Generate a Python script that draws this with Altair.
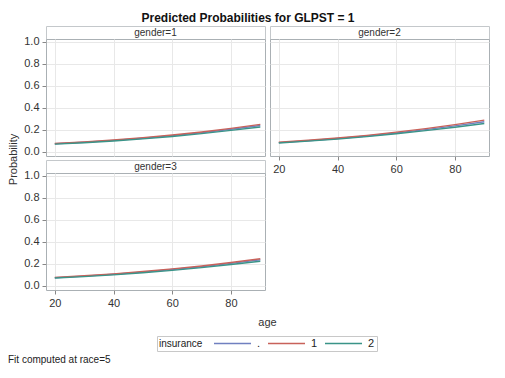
import altair as alt
import pandas as pd

ages = [20, 30, 40, 50, 60, 70, 80, 90]
insurance_levels = [".", "1", "2"]
genders = ["1", "2", "3"]

# predicted probabilities
g1 = {
    ".": [0.071, 0.085, 0.102, 0.122, 0.145, 0.172, 0.203, 0.237],
    "1": [0.074, 0.088, 0.106, 0.127, 0.151, 0.179, 0.211, 0.248],
    "2": [0.068, 0.081, 0.097, 0.116, 0.138, 0.164, 0.193, 0.224],
}
g2 = {
    ".": [0.082, 0.099, 0.119, 0.142, 0.169, 0.200, 0.234, 0.272],
    "1": [0.085, 0.103, 0.124, 0.148, 0.177, 0.209, 0.246, 0.287],
    "2": [0.079, 0.095, 0.114, 0.136, 0.162, 0.191, 0.222, 0.256],
}
g3 = {
    ".": [0.072, 0.086, 0.103, 0.123, 0.146, 0.172, 0.202, 0.235],
    "1": [0.075, 0.090, 0.107, 0.128, 0.152, 0.179, 0.210, 0.245],
    "2": [0.069, 0.082, 0.098, 0.117, 0.139, 0.164, 0.192, 0.222],
}
x_ticks = [20, 40, 60, 80]
y_ticks = [0.0, 0.2, 0.4, 0.6, 0.8, 1.0]
line_colors = ["#7080c0", "#c8625a", "#3a9488"]

rows = []
for g, d in zip(genders, [g1, g2, g3]):
    for ins in insurance_levels:
        for a, p in zip(ages, d[ins]):
            rows.append({"gender": g, "insurance": ins, "age": a, "prob": p})
df = pd.DataFrame(rows)

FONT = "Liberation Sans"
PW, PH, HH = 219, 117, 13
FRAME = "#aab0b4"

x_scale = alt.Scale(domain=[17, 91.6], nice=False, zero=False)
y_scale = alt.Scale(domain=[-0.04, 1.025], nice=False, zero=False)
color = alt.Color(
    "insurance:N",
    scale=alt.Scale(domain=insurance_levels, range=line_colors),
    legend=alt.Legend(
        title="insurance", orient="none", legendX=111, legendY=310,
        direction="horizontal", titleOrient="left", symbolType="stroke",
        symbolSize=1369, symbolStrokeWidth=1.5, strokeColor="#c8c8c8",
        clipHeight=11, padding=2, titleFontWeight="normal", titleFontSize=10,
        labelFontSize=11, titleFont=FONT, labelFont=FONT, titleColor="#222",
        labelColor="#222", columnPadding=6, labelOffset=5, titlePadding=10,
    ),
)

common_axis = dict(tickSize=4, domain=False, gridColor="#e8e8e8", labelFont=FONT,
                   labelFontSize=11, labelColor="#333", tickColor="#888",
                   labelPadding=3, titleFont=FONT, titleFontSize=11,
                   titleFontWeight="normal", titleColor="#333")


def header(g):
    return alt.Chart(pd.DataFrame({"label": [f"gender={g}"]})).mark_text(
        font=FONT, fontSize=10, color="#333"
    ).encode(text="label:N").properties(
        width=PW, height=HH, view=alt.ViewBackground(stroke="#c4c8cb")
    )


def blank(h):
    return alt.Chart(pd.DataFrame({"label": [""]})).mark_text().encode(
        text="label:N"
    ).properties(width=PW, height=h, view=alt.ViewBackground(stroke="transparent"))


def plot(g, xlab, ylab, ytitle=False, xtitle=False, footnote=False):
    if xtitle:
        xa = alt.Axis(values=x_ticks, labels=True, ticks=True, title="age",
                      titleX=221, titleY=26, **common_axis)
    else:
        xa = alt.Axis(values=x_ticks, labels=xlab, ticks=xlab, title=None, **common_axis)
    if ytitle:
        ya = alt.Axis(values=y_ticks, format=".1f", labels=True, ticks=True,
                      title="Probability", titleX=-33, titleY=120, titleAngle=270,
                      titleBaseline="middle", **common_axis)
    else:
        ya = alt.Axis(values=y_ticks, format=".1f", labels=ylab, ticks=ylab,
                      title=None, **common_axis)
    props = dict(width=PW, height=PH, view=alt.ViewBackground(stroke=FRAME))
    if footnote:
        props["title"] = alt.TitleParams(
            "Fit computed at race=5", orient="bottom", anchor="start", frame="group",
            dx=-38, offset=28, font=FONT, fontSize=10, fontWeight="normal", color="#222")
    return alt.Chart(df[df.gender == g]).mark_line(strokeWidth=1.4).encode(
        x=alt.X("age:Q", scale=x_scale, axis=xa),
        y=alt.Y("prob:Q", scale=y_scale, axis=ya),
        color=color,
    ).properties(**props)


cells = [
    header("1"), header("2"),
    plot("1", False, True, ytitle=True), plot("2", True, False),
    blank(4), blank(4),
    header("3"), blank(HH),
    plot("3", True, True, xtitle=True, footnote=True), blank(PH),
]

chart = alt.concat(*cells, columns=2, spacing=alt.RowColnumber(row=0, column=5),
                   bounds="flush").properties(
    title=alt.TitleParams("Predicted Probabilities for GLPST = 1", font=FONT,
                          fontSize=12, fontWeight="bold", color="#111",
                          anchor="middle", frame="bounds", offset=1),
    padding={"left": 6, "top": 11, "right": 5, "bottom": 5},
    background="white",
)

chart.save("out.html", embed_options={"renderer": "svg", "actions": False})
